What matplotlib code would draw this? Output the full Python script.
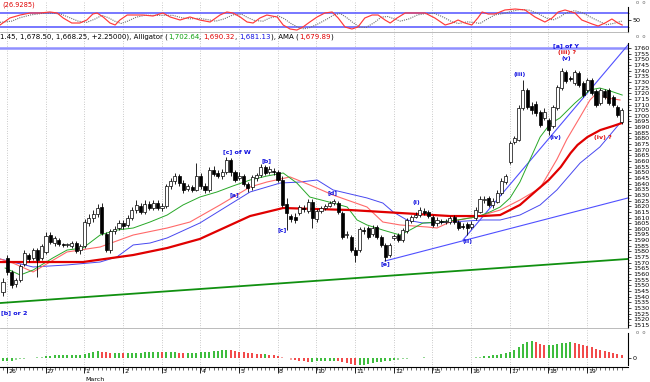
import matplotlib
matplotlib.use("Agg")
import matplotlib.pyplot as plt
from matplotlib.patches import Rectangle
from matplotlib.transforms import blended_transform_factory as btf

# ---------------- data ----------------
day_labels = ["26", "27", "1", "2", "3", "4", "5", "8", "10", "11", "12", "15", "16", "17", "18", "19"]
month_label = "March"
bars_per_day = 9

opens = [1544.1, 1574.2, 1561.8, 1551.2, 1554.7, 1568.9, 1576.8, 1574.2, 1581.2, 1574.2,
         1579.5, 1594.5, 1587.4, 1590.1, 1586.6, 1585.7, 1584.8, 1587.4, 1581.2, 1584.8,
         1605.1, 1609.6, 1613.1, 1619.3, 1595.4, 1581.2, 1598.1, 1600.7, 1605.1, 1603.4,
         1609.6, 1616.6, 1620.2, 1614.9, 1622.0, 1618.4, 1622.8, 1618.4, 1620.2, 1637.9,
         1642.3, 1646.7, 1640.5, 1635.2, 1637.0, 1634.4, 1646.7, 1637.9, 1634.4, 1652.0,
         1649.4, 1646.7, 1650.3, 1660.9, 1650.3, 1645.0, 1646.7, 1639.7, 1637.0, 1645.0,
         1647.6, 1654.7, 1650.3, 1651.2, 1650.3, 1643.2, 1622.0, 1611.3, 1610.5, 1614.0,
         1618.4, 1615.8, 1623.7, 1608.7, 1615.8, 1618.4, 1620.2, 1622.8, 1622.8, 1614.0,
         1594.5, 1592.8, 1581.2, 1581.2, 1598.9, 1600.7, 1595.4, 1601.6, 1592.8, 1585.7,
         1576.8, 1591.9, 1594.5, 1590.1, 1598.1, 1606.9, 1610.5, 1612.2, 1615.8, 1614.9,
         1610.5, 1605.1, 1606.9, 1606.0, 1606.0, 1610.5, 1606.0, 1602.5, 1604.3, 1601.6,
         1609.6, 1614.9, 1625.5, 1627.3, 1621.1, 1623.7, 1631.7, 1641.4, 1659.1, 1676.8,
         1678.6, 1706.9, 1722.9, 1708.7, 1710.5, 1703.4, 1698.1, 1696.3, 1691.0, 1706.9,
         1724.6, 1738.8, 1733.5, 1729.0, 1737.9, 1729.0, 1722.9, 1731.7, 1722.0, 1711.3,
         1722.0, 1722.9, 1716.7, 1707.8, 1694.5]
closes = [1552.9, 1561.8, 1550.3, 1554.7, 1567.1, 1578.6, 1573.3, 1581.2, 1572.4, 1584.8,
          1593.6, 1588.3, 1591.9, 1586.6, 1585.7, 1586.6, 1587.4, 1580.4, 1584.8, 1606.0,
          1609.6, 1613.1, 1618.4, 1596.3, 1581.2, 1598.1, 1599.8, 1605.1, 1602.5, 1609.6,
          1616.6, 1621.1, 1614.9, 1622.0, 1618.4, 1622.8, 1618.4, 1620.2, 1637.9, 1642.3,
          1646.7, 1640.5, 1634.4, 1637.9, 1634.4, 1646.7, 1637.9, 1634.4, 1652.0, 1648.5,
          1646.7, 1650.3, 1660.9, 1650.3, 1643.2, 1646.7, 1639.7, 1636.1, 1645.9, 1647.6,
          1654.7, 1649.4, 1652.9, 1650.3, 1643.2, 1621.1, 1614.0, 1608.7, 1607.8, 1619.3,
          1617.5, 1623.7, 1609.6, 1615.8, 1618.4, 1620.2, 1622.8, 1624.6, 1614.9, 1592.8,
          1595.4, 1581.2, 1576.8, 1599.8, 1598.1, 1592.8, 1600.7, 1592.8, 1585.7, 1575.1,
          1585.7, 1593.6, 1590.1, 1598.9, 1607.8, 1610.5, 1612.2, 1616.6, 1614.0, 1611.3,
          1603.4, 1607.8, 1606.0, 1606.9, 1609.6, 1606.0, 1600.7, 1601.6, 1600.7, 1604.3,
          1616.6, 1626.4, 1626.4, 1621.1, 1624.6, 1631.7, 1642.3, 1646.7, 1675.9, 1680.4,
          1706.9, 1722.9, 1707.8, 1705.2, 1702.5, 1691.9, 1703.4, 1687.5, 1707.8, 1725.5,
          1739.7, 1730.8, 1732.6, 1738.8, 1727.3, 1718.4, 1731.7, 1720.2, 1709.6, 1722.9,
          1716.7, 1711.3, 1709.6, 1700.7, 1705.2]
highs = [1556.5, 1576.8, 1563.5, 1556.5, 1568.9, 1581.2, 1578.6, 1583.0, 1583.0, 1586.6,
         1597.2, 1597.2, 1593.6, 1591.9, 1587.4, 1587.4, 1589.2, 1589.2, 1586.6, 1608.7,
         1613.1, 1616.6, 1622.0, 1622.8, 1597.2, 1599.8, 1602.5, 1607.8, 1607.8, 1612.2,
         1619.3, 1625.5, 1622.8, 1625.5, 1624.6, 1625.5, 1625.5, 1622.8, 1639.7, 1645.0,
         1649.4, 1648.5, 1643.2, 1639.7, 1638.8, 1658.2, 1649.4, 1640.5, 1654.7, 1655.6,
         1652.0, 1652.9, 1663.6, 1662.7, 1652.0, 1650.3, 1648.5, 1641.4, 1647.6, 1649.4,
         1657.4, 1656.5, 1655.6, 1653.8, 1652.0, 1646.7, 1627.3, 1613.1, 1614.0, 1621.1,
         1621.1, 1626.4, 1626.4, 1617.5, 1620.2, 1622.0, 1624.6, 1626.4, 1624.6, 1615.8,
         1598.1, 1594.5, 1583.9, 1601.6, 1601.6, 1602.5, 1603.4, 1603.4, 1594.5, 1587.4,
         1587.4, 1595.4, 1596.3, 1600.7, 1609.6, 1612.2, 1614.9, 1619.3, 1618.4, 1616.6,
         1612.2, 1610.5, 1608.7, 1608.7, 1611.3, 1612.2, 1607.8, 1605.1, 1606.0, 1606.9,
         1619.3, 1629.0, 1629.0, 1629.0, 1627.3, 1634.4, 1645.0, 1648.5, 1677.7, 1682.1,
         1709.6, 1731.7, 1724.6, 1712.2, 1713.1, 1705.2, 1706.9, 1698.1, 1709.6, 1727.3,
         1742.3, 1740.5, 1735.2, 1740.5, 1739.7, 1730.8, 1733.5, 1733.5, 1723.7, 1724.6,
         1723.7, 1724.6, 1718.4, 1709.6, 1706.9]
lows = [1540.5, 1559.1, 1547.6, 1548.5, 1552.9, 1567.1, 1570.6, 1572.4, 1557.4, 1572.4,
        1577.7, 1586.6, 1584.8, 1584.8, 1583.9, 1583.9, 1583.0, 1578.6, 1577.7, 1583.0,
        1602.5, 1606.0, 1610.5, 1594.5, 1579.5, 1578.6, 1595.4, 1598.9, 1599.8, 1601.6,
        1607.8, 1614.0, 1613.1, 1613.1, 1616.6, 1616.6, 1616.6, 1615.8, 1618.4, 1635.2,
        1639.7, 1637.9, 1631.7, 1633.5, 1632.6, 1633.5, 1635.2, 1631.7, 1632.6, 1646.7,
        1645.0, 1644.1, 1648.5, 1646.7, 1641.4, 1643.2, 1637.9, 1632.6, 1634.4, 1642.3,
        1645.9, 1647.6, 1648.5, 1647.6, 1641.4, 1619.3, 1598.9, 1606.0, 1605.1, 1612.2,
        1614.9, 1614.0, 1600.7, 1606.0, 1614.0, 1616.6, 1619.3, 1621.1, 1613.1, 1591.0,
        1591.9, 1579.5, 1570.6, 1579.5, 1595.4, 1591.0, 1593.6, 1591.0, 1583.9, 1571.5,
        1575.1, 1590.1, 1588.3, 1588.3, 1596.3, 1605.1, 1609.6, 1610.5, 1612.2, 1609.6,
        1601.6, 1602.5, 1604.3, 1604.3, 1604.3, 1604.3, 1598.9, 1599.8, 1594.5, 1599.8,
        1607.8, 1614.0, 1622.8, 1619.3, 1618.4, 1622.8, 1629.9, 1639.7, 1657.4, 1675.1,
        1677.7, 1705.2, 1706.0, 1701.6, 1699.8, 1690.1, 1696.3, 1683.0, 1689.2, 1705.2,
        1722.9, 1729.0, 1730.8, 1727.3, 1725.5, 1716.7, 1721.1, 1718.4, 1707.8, 1709.6,
        1714.9, 1709.6, 1707.8, 1699.0, 1692.8]

hist_vals = [-3, -3, -2.5, -1.5, -1, -0.5, 0.3, 0.5, 1, 1.5,
             2, 2.5, 3, 3, 3, 3, 3, 3.5, 3.5, 4,
             5, 6, 7, 6.5, 6, 5.5, 5.5, 5.5, 5, 5,
             5, 5.5, 5.5, 6, 6, 6, 6.5, 6, 6, 6,
             6, 5.5, 5, 5, 5, 5.5, 6, 6, 6.5, 7,
             7.5, 8, 8.5, 8, 7, 6.5, 6, 5.5, 5, 4.5,
             4, 4, 3.5, 3, 2.5, 1.5, 0, -1.5, -2, -2.5,
             -3, -3.5, -3.5, -3, -3, -2.5, -2.5, -2.5, -3, -4,
             -5, -6, -7, -7, -6.5, -5.5, -5, -4, -3.5, -3,
             -2.5, -2, -1.5, -1, -0.5, 0, 0.5, 0.5, 1, 0.5,
             0.3, 0.2, 0.2, 0.2, 0.3, 0.3, 0.2, 0.2, 0.3, 0.5,
             1, 1.5, 2, 2.5, 3, 3.5, 4, 5, 6, 8,
             11, 14, 16, 17, 16, 14, 13, 13, 13.5, 14,
             15, 15.5, 16, 15, 14, 13, 12, 11, 9, 8,
             7, 6, 5, 4, 3.5]

osc_x = [-0.7, 1.6, 4, 6.3, 8.6, 10.9, 12.6, 14, 16, 17.9, 19.5, 20.9, 21.9, 23.3, 24.9,
         26.1, 27.2, 28.9, 30.3, 32.6, 34.9, 37.2, 38.9, 41.2, 43.5, 45.8, 48.2, 50.5, 52.1,
         53.5, 55.2, 56.8, 58.2, 59.8, 61.4, 63.8, 65.2, 66.8, 68.4, 69.8, 71.4, 73.1, 74.9,
         76.6, 78, 79.6, 81.2, 82.6, 84.2, 85.9, 87.3, 88.9, 90.1, 91.7, 93.6, 95.9, 98.2,
         100.5, 102.9, 104.5, 105.9, 107.5, 109.1, 110.5, 111.5, 112.9, 114.5, 116.8, 119.2,
         121.5, 123.8, 126.1, 127.8, 129.2, 130.8, 133.1, 134.7, 137.1, 138.5, 140.1, 141.7,
         143.1, 144.1]
osc_v = [28.6, 58.6, 71.4, 80, 80, 84.3, 80, 58.6, 37.1, 37.1, 50, 75.7, 80, 62.9, 37.1,
         28.6, 50, 71.4, 71.4, 71.4, 67.1, 80, 62.9, 50, 62.9, 50, 41.4, 71.4, 84.3,
         80, 62.9, 41.4, 37.1, 58.6, 71.4, 62.9, 28.6, 11.4, 7.1, 20, 41.4, 62.9, 80,
         84.3, 58.6, 20, 11.4, 20, 58.6, 71.4, 71.4, 50, 37.1, 58.6, 80, 80, 80,
         58.6, 28.6, 37.1, 50, 37.1, 28.6, 58.6, 84.3, 75.7, 75.7, 92.9, 97.1,
         92.9, 62.9, 41.4, 58.6, 84.3, 92.9, 80, 50, 32.9, 24.3, 37.1, 54.3,
         37.1, 28.6]
sig_x = [-0.7, 2, 4, 6.5, 9, 11.5, 13.5, 15.5, 17.5, 19.5, 21.5, 23, 24.5, 26, 27.5, 29,
         31, 33, 35, 37.5, 39.5, 41.5, 43.5, 45.5, 47.5, 49.5, 51.5, 53.5, 55.5, 57, 58.5,
         60.5, 62, 64, 65.5, 67, 68.5, 70, 71.5, 73.5, 75.5, 77, 78.5, 80, 81.5, 83, 84.5,
         86.5, 88, 89.5, 91, 92.5, 94.5, 96.5, 98.5, 100.5, 102.5, 104.5, 106, 108, 109.5,
         111, 112.5, 114.5, 116.5, 118.5, 120.5, 122.5, 124.5, 126.5, 128, 129.5, 131, 133,
         135, 137, 139, 140.5, 142, 144]
sig_v = [40, 45, 60, 72, 78, 80, 75, 60, 45, 40, 55, 70, 60, 45, 35, 45,
         62, 70, 70, 70, 70, 60, 55, 57, 52, 45, 55, 72, 75, 60, 48,
         45, 58, 68, 55, 35, 20, 12, 18, 35, 55, 72, 78, 60, 38, 20, 18,
         40, 62, 65, 55, 45, 55, 72, 78, 78, 62, 42, 35, 42, 40,
         35, 52, 72, 78, 88, 95, 92, 78, 58, 50, 62, 80, 90,
         80, 60, 42, 30, 35, 45]

lips_x = [0.5, 4, 7, 11.6, 14.9, 18.6, 22.6, 26.5, 30.3, 34.2, 38.2, 41.9, 45.8, 49.8, 53.5,
          57.5, 61.4, 65.2, 68.4, 71.4, 76.8, 80.1, 82.4, 84.7, 88.4, 92.4, 94.7, 97.7, 101.7,
          105.7, 110.3, 113.3, 115.7, 118, 120.3, 122.6, 125, 127.3, 129.6, 133.1, 136.6,
          138.9, 141.3, 144.1]
lips_v = [1565.3, 1559.1, 1563.5, 1574.2, 1581.2, 1583.0, 1594.5, 1598.9, 1600.7, 1606.0,
          1612.2, 1621.1, 1628.1, 1632.6, 1637.9, 1643.2, 1646.7, 1649.4, 1640.5, 1628.1,
          1622.8, 1619.3, 1607.8, 1603.4, 1598.9, 1594.5, 1598.9, 1605.1, 1606.0, 1607.8,
          1610.5, 1614.9, 1619.3, 1627.3, 1641.4, 1660.9, 1681.2, 1692.8, 1698.1, 1711.3,
          1722.9, 1724.6, 1722.0, 1718.4]
teeth_x = [-0.7, 2.3, 7, 14.9, 22.6, 30.3, 38.2, 43.5, 50.5, 57.5, 61.4, 66.8, 71.4, 76.8,
           84.7, 88.4, 92.4, 98.7, 101, 104, 111.7, 115.7, 120.3, 125, 128.9, 131.2, 134.3,
           136.6, 138.2, 140.6, 143.6]
teeth_v = [1573.3, 1569.7, 1561.8, 1579.5, 1583.9, 1594.5, 1600.7, 1606.0, 1621.1, 1637.0,
           1641.4, 1645.9, 1638.8, 1629.9, 1619.3, 1606.0, 1603.4, 1601.6, 1600.7, 1606.0,
           1612.2, 1616.6, 1625.5, 1636.1, 1661.4, 1679.1, 1699.0, 1714.0, 1720.2, 1715.8,
           1714.0]
jaw_x = [-0.7, 7, 14.9, 22.6, 26.5, 30.3, 34.2, 38.2, 45.8, 57.5, 64.5, 69.1, 73.1, 76.8,
         84.7, 88.4, 90.8, 94, 97.7, 104, 111.7, 115.7, 120.3, 125, 128.9, 134.3, 138.9, 143.6]
jaw_v = [1573.3, 1566.2, 1568.0, 1570.6, 1575.1, 1585.7, 1587.4, 1591.9, 1605.1, 1632.6,
         1640.5, 1641.4, 1643.2, 1634.4, 1627.3, 1622.8, 1614.9, 1607.8, 1605.1, 1606.0,
         1607.8, 1607.8, 1612.2, 1621.1, 1634.4, 1658.2, 1672.4, 1693.6]
ama_x = [-0.7, 18.6, 30.3, 38.2, 45.8, 57.5, 65.2, 73.1, 80.8, 88.4, 96.3, 104, 111.7,
         115.7, 120.3, 124.3, 127, 129.8, 132.1, 133.7, 136, 139, 142, 144]
ama_v = [1570.6, 1570.6, 1576.8, 1583.0, 1591.0, 1611.3, 1618.4, 1617.5, 1616.6, 1614.9,
         1613.1, 1611.3, 1611.3, 1612.2, 1621.1, 1634.4, 1643.2, 1654.7, 1667.1, 1674.2,
         1681.2, 1687.4, 1691.0, 1693.6]

green_trend_x = [-0.7, 145.45]
green_trend_v = [1534.3, 1573.3]
blue_trend1_x = [88.9, 145.45]
blue_trend1_v = [1571.5, 1627.3]
blue_trend2_x = [107.05, 145.45]
blue_trend2_v = [1590.1, 1762.7]
resistance = 1760

wave_labels = ["[c] of W", "[a]", "[b]", "[c]", "[d]", "[e]", "(i)", "(ii)", "(iii)", "(iv)",
               "(v)", "[a] of Y"]
wave_x = [54.5, 53.8, 61.4, 64.9, 76.6, 88.9, 96.1, 108.0, 120.3, 128.5, 131.0, 131.0]
wave_y = [1667.9, 1629.9, 1660.5, 1598.9, 1631.7, 1568.9, 1623.7, 1589.2, 1737.0, 1681.2,
          1750.5, 1761.8]
alt_labels = ["(iii) ?", "(iv) ?"]
alt_x = [131.2, 139.6]
alt_y = [1755.6, 1680.4]

# ---------------- figure ----------------
W, H = 650, 382
fig = plt.figure(figsize=(6.5, 3.82), dpi=100)
fig.patch.set_facecolor("white")


def fy(py):
    return 1 - py / H


RIGHT = 628 / W
X0, X1 = -0.7, 145.45
n = len(opens)
day_pos = [0.93 + bars_per_day * k for k in range(len(day_labels))]

ax_o = fig.add_axes([0, fy(32), RIGHT, 30 / H])
ax = fig.add_axes([0, fy(328), RIGHT, (328 - 33) / H])
ax_h = fig.add_axes([0, fy(367), RIGHT, (367 - 330) / H])

for a in (ax_o, ax, ax_h):
    a.set_xlim(X0, X1)
    a.set_facecolor("white")
    for s in ("left", "top"):
        a.spines[s].set_visible(False)
    a.spines["right"].set_color("black")
    a.spines["right"].set_linewidth(0.8)
    a.yaxis.tick_right()
    a.tick_params(axis="y", labelsize=4.6, length=2, width=0.5, pad=1.5)
    a.tick_params(axis="y", which="minor", length=1, width=0.4)
    for d in day_pos:
        a.axvline(d, color="#9a9a9a", lw=0.5, ls=(0, (1, 2.5)), zorder=0)

# ---- oscillator panel ----
ax_o.set_ylim(-1.4, 127.1)
ax_o.axhline(80, color="#6060ff", lw=1.2, zorder=1)
ax_o.axhline(20, color="#6060ff", lw=1.2, zorder=1)
ax_o.plot(sig_x, sig_v, color="#707070", lw=0.8, ls=(0, (1, 1)), zorder=2)
ax_o.plot(osc_x, osc_v, color="#ff3a3a", lw=0.85, zorder=3)
ax_o.set_yticks([50])
ax_o.set_yticks([20, 80], minor=True)
ax_o.spines["right"].set_bounds(-1.4, 105)
ax_o.spines["bottom"].set_color("#b0b0b0")
ax_o.spines["bottom"].set_linewidth(0.6)
ax_o.set_xticks([])

# ---- main price panel ----
ax.set_ylim(1512.2, 1773.3)
ax.spines["right"].set_bounds(1512.2, 1764.4)
ax.spines["bottom"].set_color("#b0b0b0")
ax.spines["bottom"].set_linewidth(0.6)
ax.set_xticks([])
ax.set_yticks(list(range(1515, 1765, 5)))
ax.set_yticks([v + 2.5 for v in range(1515, 1760, 5)], minor=True)

ax.axhline(resistance, color="#9090ff", lw=1.8, zorder=2)
ax.plot(green_trend_x, green_trend_v, color="#109010", lw=1.3, zorder=2)
ax.plot(blue_trend1_x, blue_trend1_v, color="#5050ff", lw=0.8, zorder=2)
ax.plot(blue_trend2_x, blue_trend2_v, color="#5050ff", lw=0.8, zorder=2)
ax.plot(jaw_x, jaw_v, color="#4848f0", lw=0.7, zorder=2)
ax.plot(teeth_x, teeth_v, color="#ff6a6a", lw=0.8, zorder=2)
ax.plot(lips_x, lips_v, color="#28a828", lw=0.7, zorder=2)
ax.plot(ama_x, ama_v, color="#e00000", lw=1.6, zorder=2)

for i, (o, h, l, c) in enumerate(zip(opens, highs, lows, closes)):
    ax.vlines(i, l, h, color="black", lw=0.6, zorder=3)
    lo, hi = min(o, c), max(o, c)
    if hi - lo < 0.5:
        hi = lo + 0.5
    ax.add_patch(Rectangle((i - 0.36, lo), 0.72, hi - lo,
                           facecolor="white" if c >= o else "black",
                           edgecolor="black", lw=0.5, zorder=4))

for s, x, y in zip(wave_labels, wave_x, wave_y):
    ax.text(x, y, s, color="#1010e0", fontsize=4.6, fontweight="bold",
            ha="center", va="center", zorder=6)
for s, x, y in zip(alt_labels, alt_x, alt_y):
    ax.text(x, y, s, color="#e01010", fontsize=4.6, fontweight="bold",
            ha="center", va="center", zorder=6)
ax.text(X0 + 0.3, 1525.5, "[b] or 2", color="#1010e0", fontsize=4.6,
        fontweight="bold", ha="left", va="center", zorder=6)

# ---- histogram panel ----
ax_h.set_ylim(-9, 28)
ax_h.spines["right"].set_bounds(-7, 25)
ax_h.spines["bottom"].set_color("black")
ax_h.spines["bottom"].set_linewidth(0.8)
ax_h.set_yticks([0])
prev = hist_vals[0]
for i, v in enumerate(hist_vals):
    col = "#18b018" if v >= prev else "#f02828"
    if abs(v) < 2:
        col = "#80d080" if v >= prev else "#f09090"
    ax_h.vlines(i, 0, v, color=col, lw=1.2, zorder=2)
    prev = v
ax_h.set_xticks(day_pos)
ax_h.set_xticks(list(range(n)), minor=True)
ax_h.tick_params(axis="x", which="major", length=4, width=0.6, labelbottom=False)
ax_h.tick_params(axis="x", which="minor", length=2, width=0.4)
tr = btf(ax_h.transData, ax_h.transAxes)
for d, lab in zip(day_pos, day_labels):
    ax_h.text(d + 0.3, -0.06, lab, transform=tr, fontsize=4.5, ha="left", va="top")
ax_h.text(day_pos[2] + 0.3, -0.27, month_label, transform=tr, fontsize=4.5,
          ha="left", va="top")

# ---- header texts ----
fig.text(2 / W, fy(5), "(26.9285)", color="#e00000", fontsize=4.8, va="center", ha="left")
for yy in (3, 37, 333):
    fig.text(636 / W, fy(yy), "o  o", color="#707070", fontsize=3.8, va="center", ha="left")

fig.canvas.draw()
rend = fig.canvas.get_renderer()
parts = [("1.45, 1,678.50, 1,668.25, +2.25000), Alligator (", "black"),
         ("1,702.64", "#10a010"), (", ", "black"), ("1,690.32", "#e00000"),
         (", ", "black"), ("1,681.13", "#1010e0"), ("), AMA (", "black"),
         ("1,679.89", "#e00000"), (")", "black")]
xx = 0.0
for s, c in parts:
    t = fig.text(xx, fy(37), s, color=c, fontsize=5.0, va="center", ha="left")
    bb = t.get_window_extent(renderer=rend)
    xx += bb.width / fig.bbox.width

fig.savefig("out.png", dpi=100, facecolor="white")
